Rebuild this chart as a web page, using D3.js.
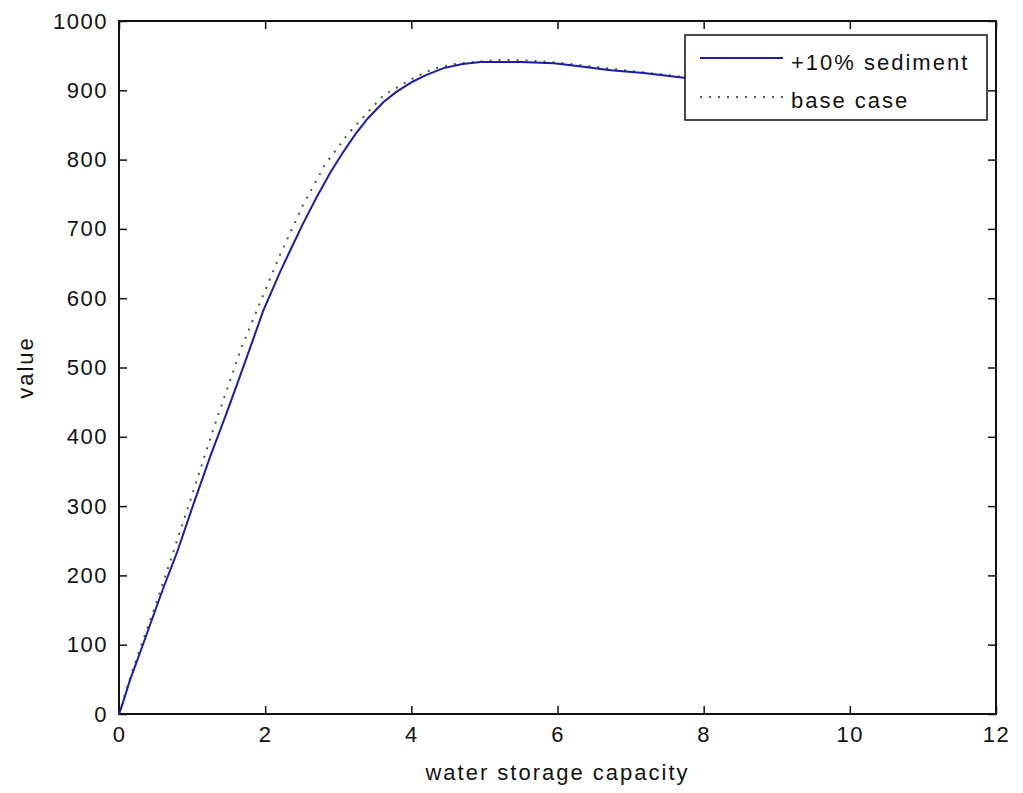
<!DOCTYPE html>
<html>
<head>
<meta charset="utf-8">
<script src="https://cdn.jsdelivr.net/npm/d3@7"></script>
<style>
  body { margin: 0; background: #fff; }
  text { font-family: "Liberation Sans", Arial, sans-serif; fill: #111; }
</style>
</head>
<body>
<div id="chart"></div>
<script>
// values
let sedimentX = [0, 0.05, 0.15, 0.3, 0.45, 0.6, 0.79, 1.0, 1.25, 1.45, 1.63, 1.8, 1.97, 2.2, 2.37, 2.52, 2.7, 2.89, 3.05, 3.23, 3.4, 3.62, 3.8, 4.01, 4.2, 4.44, 4.7, 4.95, 5.22, 5.5, 5.95, 6.27, 6.73, 7.18, 7.73, 8.2, 8.7, 9.2];
let sedimentY = [0, 15, 49, 92, 136, 180, 232, 297, 372, 428, 480, 530, 581, 637, 675, 708, 745, 781, 808, 836, 859, 883, 898, 912, 922, 932, 938, 941, 941, 941, 939, 935, 929, 925, 918, 912, 905, 898];

let baseX = [0, 0.2, 0.53, 0.95, 1.3, 1.68, 2.2, 2.52, 2.82, 3.14, 3.62, 4.05, 4.33, 4.6, 5.18, 5.6, 6.0, 6.5, 7.0, 7.5, 8.0, 8.5, 9.0];
let baseY = [0, 68, 166, 300, 414, 530, 662, 735, 793, 838, 893, 919, 932, 938, 944, 943, 940, 934, 928, 922, 916, 909, 902];

let xTicks = [0, 2, 4, 6, 8, 10, 12];
let yTicks = [0, 100, 200, 300, 400, 500, 600, 700, 800, 900, 1000];
let seriesNames = ["+10% sediment", "base case"];

let width = 1023, height = 793;
let margin = {top: 21, right: 27, bottom: 79, left: 119};

let svg = d3.select("#chart").append("svg")
    .attr("width", width)
    .attr("height", height);

svg.append("rect").attr("width", width).attr("height", height).attr("fill", "white");

let x = d3.scaleLinear().domain([0, 12]).range([margin.left, width - margin.right]);
let y = d3.scaleLinear().domain([0, 1000]).range([height - margin.bottom, margin.top]);

// axes, matlab style: ticks pointing inward on all four sides
let fontSize = "22px";
let tickLen = 8;

function styleAxis(g) {
    g.select(".domain").remove();
    g.selectAll(".tick line").attr("stroke", "#111").attr("stroke-width", 1.5);
    g.selectAll(".tick text")
        .attr("font-size", fontSize)
        .attr("letter-spacing", "1.5px");
}

svg.append("g")
    .attr("transform", `translate(0,${y(0)})`)
    .call(d3.axisBottom(x).tickValues(xTicks).tickFormat(d3.format("d")).tickSizeInner(-tickLen).tickPadding(12))
    .call(styleAxis);

svg.append("g")
    .attr("transform", `translate(${x(0)},0)`)
    .call(d3.axisLeft(y).tickValues(yTicks).tickFormat(d3.format("d")).tickSizeInner(-tickLen).tickPadding(11))
    .call(styleAxis);

svg.append("g")
    .attr("transform", `translate(0,${y(1000)})`)
    .call(d3.axisTop(x).tickValues(xTicks).tickFormat("").tickSizeInner(-tickLen))
    .call(styleAxis);

svg.append("g")
    .attr("transform", `translate(${x(12)},0)`)
    .call(d3.axisRight(y).tickValues(yTicks).tickFormat("").tickSizeInner(-tickLen))
    .call(styleAxis);

// frame
svg.append("rect")
    .attr("x", x(0)).attr("y", y(1000))
    .attr("width", x(12) - x(0)).attr("height", y(0) - y(1000))
    .attr("fill", "none").attr("stroke", "#111").attr("stroke-width", 2);

// lines
let line = d3.line()
    .x(d => x(d[0]))
    .y(d => y(d[1]));

let baseData = baseX.map((d, i) => [d, baseY[i]]);
let sedData = sedimentX.map((d, i) => [d, sedimentY[i]]);

svg.append("path")
    .datum(baseData)
    .attr("d", line)
    .attr("fill", "none")
    .attr("stroke", "#3f5f48")
    .attr("stroke-width", 2)
    .attr("stroke-dasharray", "2,7");

svg.append("path")
    .datum(sedData)
    .attr("d", line)
    .attr("fill", "none")
    .attr("stroke", "#1c1ca6")
    .attr("stroke-width", 2);

// legend
let lg = svg.append("g").attr("transform", "translate(685,35)");
lg.append("rect")
    .attr("width", 302).attr("height", 85)
    .attr("fill", "white").attr("stroke", "#111").attr("stroke-width", 1.5);

lg.append("line").attr("x1", 15).attr("x2", 98).attr("y1", 23).attr("y2", 23)
    .attr("stroke", "#1c1ca6").attr("stroke-width", 2);
lg.append("line").attr("x1", 15).attr("x2", 98).attr("y1", 62).attr("y2", 62)
    .attr("stroke", "#3f5f48").attr("stroke-width", 2).attr("stroke-dasharray", "2,7");

lg.selectAll("text.lab")
    .data(seriesNames)
    .enter().append("text")
    .attr("class", "lab")
    .attr("x", 106)
    .attr("y", (d, i) => 35 + i * 38)
    .attr("font-size", fontSize)
    .attr("letter-spacing", "2px")
    .text(d => d);

// axis titles
svg.append("text")
    .attr("x", (x(0) + x(12)) / 2)
    .attr("y", 780)
    .attr("text-anchor", "middle")
    .attr("font-size", fontSize)
    .attr("letter-spacing", "2px")
    .text("water storage capacity");

svg.append("text")
    .attr("transform", `translate(33,${(y(0) + y(1000)) / 2}) rotate(-90)`)
    .attr("text-anchor", "middle")
    .attr("font-size", fontSize)
    .attr("letter-spacing", "2px")
    .text("value");
</script>
</body>
</html>
